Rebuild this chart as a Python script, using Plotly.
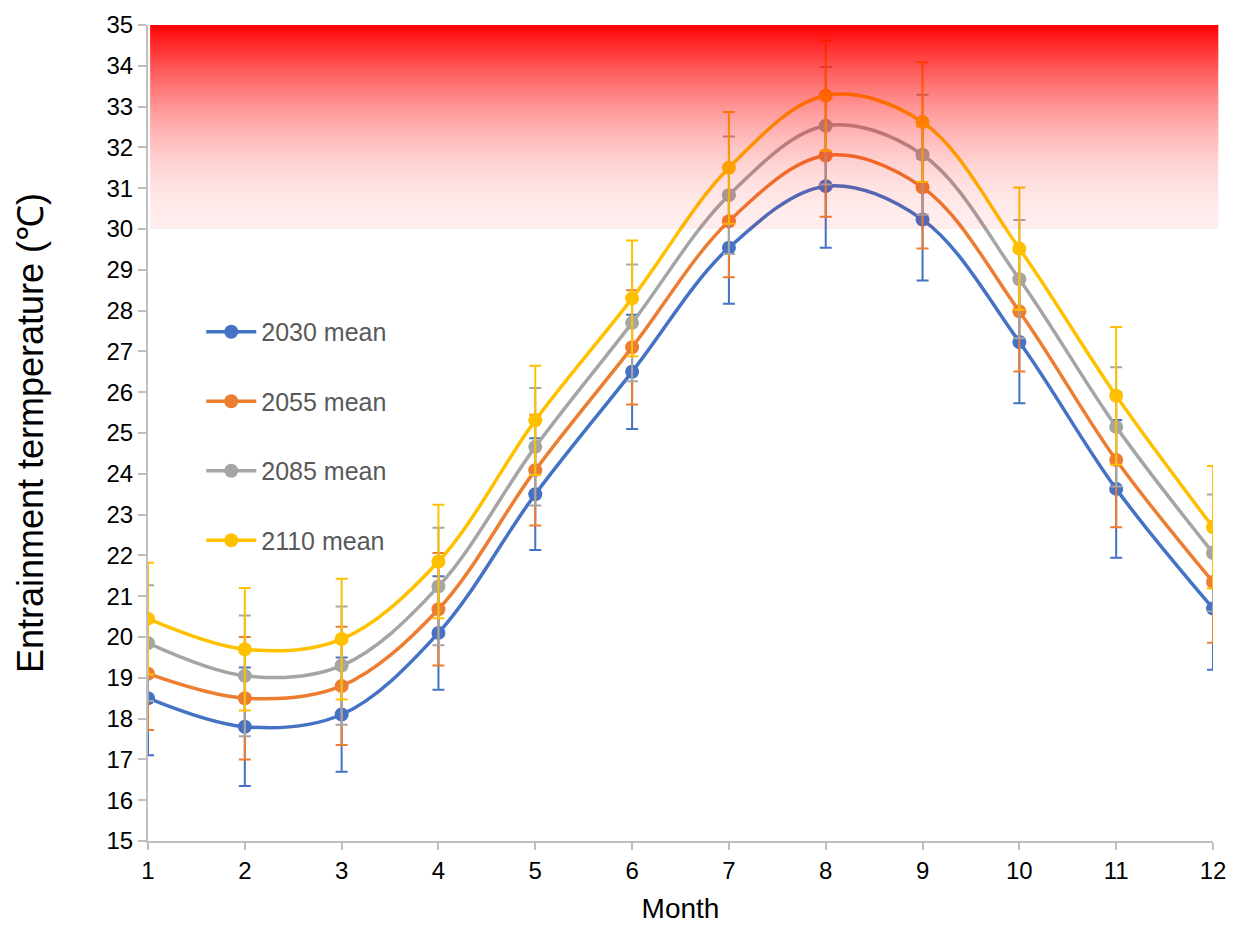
import base64
import struct
import zlib
import plotly.graph_objects as go

months = list(range(1, 13))
series_names = ["2030 mean", "2055 mean", "2085 mean", "2110 mean"]
colors = ["#4472C4", "#ED7D31", "#A5A5A5", "#FFC000"]

mean_2030 = [18.5, 17.8, 18.1, 20.1, 23.5, 26.5, 29.54, 31.05, 30.23, 27.23, 23.63, 20.7]
mean_2055 = [19.1, 18.5, 18.8, 20.68, 24.09, 27.1, 30.19, 31.8, 31.02, 27.98, 24.34, 21.35]
mean_2085 = [19.85, 19.05, 19.3, 21.24, 24.66, 27.7, 30.83, 32.53, 31.82, 28.77, 25.15, 22.06]
mean_2110 = [20.45, 19.7, 19.95, 21.85, 25.31, 28.3, 31.5, 33.27, 32.62, 29.52, 25.91, 22.69]

err_2030 = [1.4, 1.45, 1.4, 1.39, 1.37, 1.4, 1.37, 1.51, 1.49, 1.5, 1.69, 1.5]
err_2055 = [1.38, 1.5, 1.45, 1.38, 1.36, 1.4, 1.37, 1.5, 1.5, 1.47, 1.65, 1.49]
err_2085 = [1.42, 1.48, 1.45, 1.44, 1.44, 1.43, 1.44, 1.44, 1.47, 1.45, 1.46, 1.43]
err_2110 = [1.37, 1.5, 1.48, 1.39, 1.34, 1.42, 1.37, 1.35, 1.47, 1.5, 1.69, 1.5]

means = [mean_2030, mean_2055, mean_2085, mean_2110]
errs = [err_2030, err_2055, err_2085, err_2110]

y_ticks = list(range(15, 36))
hot_threshold = 30
y_max = 35


def gradient_png(n=256):
    """1-pixel-wide vertical red gradient, opaque at top, faint at bottom."""
    raw = b""
    for i in range(n):
        t = 1 - (i + 0.5) / n  # 1 at top
        a = 0.07 + 0.93 * t ** 1.9
        raw += b"\x00" + bytes([255, 0, 0, int(round(a * 255))])

    def chunk(tag, data):
        c = struct.pack(">I", len(data)) + tag + data
        return c + struct.pack(">I", zlib.crc32(tag + data) & 0xFFFFFFFF)

    png = b"\x89PNG\r\n\x1a\n"
    png += chunk(b"IHDR", struct.pack(">IIBBBBB", 1, n, 8, 6, 0, 0, 0))
    png += chunk(b"IDAT", zlib.compress(raw))
    png += chunk(b"IEND", b"")
    return "data:image/png;base64," + base64.b64encode(png).decode()


fig = go.Figure()
for name, col, m, e in zip(series_names, colors, means, errs):
    fig.add_trace(go.Scatter(
        x=months, y=m, name=name, mode="lines+markers",
        line=dict(color=col, width=3.5, shape="spline", smoothing=1.0),
        marker=dict(color=col, size=14),
        error_y=dict(type="data", array=e, visible=True, color=col, thickness=2, width=6),
        legendgroup=name,
    ))

fig.add_layout_image(dict(
    source=gradient_png(), xref="paper", yref="y",
    x=0.002, y=y_max, sizex=1.003, sizey=y_max - hot_threshold,
    xanchor="left", yanchor="top", sizing="stretch", layer="above", opacity=1,
))

fig.update_layout(
    width=1242, height=930,
    margin=dict(l=140, r=37, t=17, b=97),
    plot_bgcolor="white", paper_bgcolor="white",
    font=dict(family="Liberation Sans, Arial, sans-serif", size=25, color="#000000"),
    showlegend=True,
    legend=dict(x=0.05, y=0.652, xanchor="left", yanchor="top",
                bgcolor="rgba(0,0,0,0)", tracegroupgap=34,
                font=dict(size=25, color="#595959"), itemwidth=50),
    xaxis=dict(range=[1, 12], tickvals=months, showgrid=False, zeroline=False,
               showline=True, linecolor="#BFBFBF", linewidth=2,
               ticks="outside", ticklen=7, tickcolor="#BFBFBF", tickwidth=2,
               tickfont=dict(size=24), ticklabeloverflow="allow", automargin=False,
               title=dict(text="Month", font=dict(size=28), standoff=16)),
    yaxis=dict(range=[15, 35], tickvals=y_ticks, showgrid=False, zeroline=False,
               showline=True, linecolor="#BFBFBF", linewidth=2,
               ticks="outside", ticklen=8, tickcolor="#BFBFBF", tickwidth=2,
               tickfont=dict(size=24), ticklabeloverflow="allow", automargin=False,
               title=dict(text="Entrainment termperature (℃)", font=dict(size=36), standoff=52)),
)

fig.write_html("out.html")
